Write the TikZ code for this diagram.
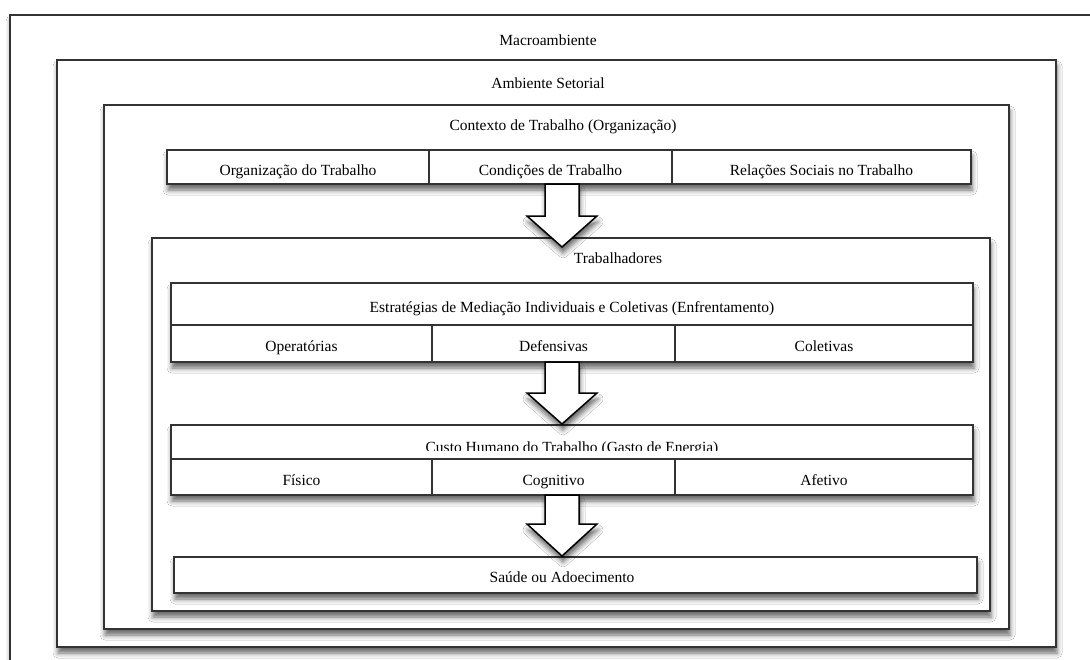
\documentclass[tikz,border=0pt]{standalone}
\usepackage{fontspec}
\setmainfont{Liberation Serif}
\usetikzlibrary{calc,shadows.blur}
\tikzset{
  frame/.style={draw=black!80, line width=1.2pt, fill=white, inner sep=0pt, outer sep=0pt, anchor=north west},
  shad/.style={blur shadow={shadow xshift=1pt, shadow yshift=-6pt, shadow blur radius=5pt, shadow opacity=60}},
  lbl/.style={font=\fontsize{15.5}{18}\selectfont, inner sep=0pt},
  cell/.style={frame, font=\fontsize{15.5}{18}\selectfont, text height=16pt, text depth=0pt},
  bigarrow/.style={draw=black, line width=1.5pt, fill=white, line join=miter, shad},
}
\newcommand{\bigdownarrow}[3]{%
  \draw[bigarrow] ($(#1)+(-17,0)$) -- ($(#1)+(17,0)$) -- ($(#1)+(17,#2)$) -- ($(#1)+(35,#2)$)
    -- (#3) -- ($(#1)+(-35,#2)$) -- ($(#1)+(-17,#2)$) -- cycle;}
\begin{document}
\begin{tikzpicture}[x=1pt,y=-1pt]
\useasboundingbox (0,0) rectangle (1090,659);
\fill[white] (0,0) rectangle (1090,659);
% nested frames
\node[frame,shad,minimum width=1100,minimum height=700] (macro) at (10,15) {};
\node[lbl] (macrolbl) at (548,40) {Macroambiente};
\node[frame,shad,minimum width=999,minimum height=587] (amb) at (57,60) {};
\node[lbl] (amblbl) at (548,83) {Ambiente Setorial};
\node[frame,shad,minimum width=905,minimum height=524] (ctx) at (104,105) {};
\node[lbl] (ctxlbl) at (563,127) {Contexto de Trabalho (Organização)};
% row 1
\node[frame,shad,minimum width=804,minimum height=34] (row1) at (167,150) {};
\node[cell,minimum width=262,minimum height=34] (org) at (167,150) {Organização do Trabalho};
\node[cell,minimum width=243,minimum height=34] (cond) at (429,150) {Condições de Trabalho};
\node[cell,minimum width=299,minimum height=34] (rel) at (672,150) {Relações Sociais no Trabalho};
% trabalhadores
\node[frame,shad,minimum width=838,minimum height=373] (trab) at (152,238) {};
\node[lbl] (trablbl) at (618,258) {Trabalhadores};
% estrategias
\node[frame,shad,minimum width=802,minimum height=79] (estr) at (171,283) {};
\node[cell,minimum width=802,minimum height=42] (estrh) at (171,283) {Estratégias de Mediação Individuais e Coletivas (Enfrentamento)};
\node[cell,minimum width=261,minimum height=37] (op) at (171,325) {Operatórias};
\node[cell,minimum width=243,minimum height=37] (def) at (432,325) {Defensivas};
\node[cell,minimum width=298,minimum height=37] (col) at (675,325) {Coletivas};
% custo
\node[frame,shad,minimum width=802,minimum height=70] (custo) at (171,425) {};
\node[frame,minimum width=802,minimum height=34] (custoh) at (171,425) {};
\begin{scope}
  \clip (171,425) rectangle (973,450);
  \node[lbl,anchor=base] (custolbl) at (572,452) {Custo Humano do Trabalho (Gasto de Energia)};
\end{scope}
\node[cell,minimum width=261,minimum height=36] (fis) at (171,459) {Físico};
\node[cell,minimum width=243,minimum height=36] (cog) at (432,459) {Cognitivo};
\node[cell,minimum width=298,minimum height=36] (afe) at (675,459) {Afetivo};
% saude
\node[frame,shad,minimum width=803,minimum height=36] (saude) at (174,557) {};
\node[lbl] (saudelbl) at (562,577) {Saúde ou Adoecimento};
% arrows
\coordinate (a1s) at (562,184);
\coordinate (a1t) at (562,247);
\coordinate (a2s) at (562,362);
\coordinate (a2t) at (562,424);
\coordinate (a3s) at (562,495);
\coordinate (a3t) at (562,556);
\bigdownarrow{a1s}{32}{a1t}
\bigdownarrow{a2s}{31}{a2t}
\bigdownarrow{a3s}{29}{a3t}
\end{tikzpicture}
\end{document}
